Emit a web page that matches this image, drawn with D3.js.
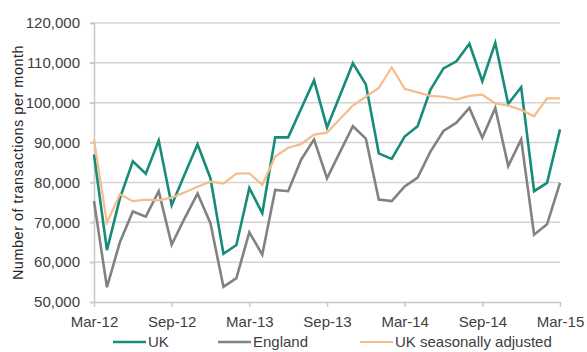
<!DOCTYPE html>
<html>
<head>
<meta charset="utf-8">
<script src="https://cdn.jsdelivr.net/npm/d3@7"></script>
<style>
  body { margin: 0; background: #fff; }
  svg { display: block; font-family: "Liberation Sans", Arial, sans-serif; }
</style>
</head>
<body>
<div id="chart-area"></div>
<script>
// monthly property transactions, Mar-12 .. Mar-15
var months = ["Mar-12","Apr-12","May-12","Jun-12","Jul-12","Aug-12","Sep-12","Oct-12","Nov-12","Dec-12",
    "Jan-13","Feb-13","Mar-13","Apr-13","May-13","Jun-13","Jul-13","Aug-13","Sep-13","Oct-13","Nov-13","Dec-13",
    "Jan-14","Feb-14","Mar-14","Apr-14","May-14","Jun-14","Jul-14","Aug-14","Sep-14","Oct-14","Nov-14","Dec-14",
    "Jan-15","Feb-15","Mar-15"];

var uk = [87000, 63000, 76000, 85300, 82200, 90500, 74300, 82000, 89600, 81000,
    62100, 64300, 78600, 72300, 91300, 91300, 98500, 105600, 93800, 101800, 109900, 104600,
    87300, 85900, 91500, 94100, 103300, 108600, 110400, 114800, 105400, 115000, 99700, 103900,
    77800, 79900, 93300];

var england = [75300, 53700, 65000, 72700, 71400, 77800, 64400, 71000, 77200, 69700,
    53800, 56000, 67500, 61900, 78100, 77800, 85700, 90800, 81000, 87600, 94100, 91000,
    75700, 75300, 79000, 81200, 87800, 92900, 95000, 98700, 91200, 98700, 84100, 90800,
    66900, 69500, 79900];

var ukSA = [90800, 69900, 77000, 75300, 75700, 75500, 76200, 77500, 78900, 80200,
    79700, 82200, 82300, 79400, 86500, 88700, 89600, 92000, 92500, 95900, 99300, 101500,
    103700, 108900, 103500, 102600, 101700, 101500, 100800, 101700, 102000, 99800, 99300, 98200,
    96600, 101100, 101100];

var yTicks = [50000, 60000, 70000, 80000, 90000, 100000, 110000, 120000];
var xTicks = [0, 6, 12, 18, 24, 30, 36];

var series = [
    {name: "UK", values: uk, color: "#168c79", width: 2.6},
    {name: "England", values: england, color: "#828282", width: 2.6},
    {name: "UK seasonally adjusted", values: ukSA, color: "#f6bd8c", width: 2.2}
];

var W = 587, H = 352;
var margin = {top: 23, left: 94, bottom: 50, right: 27};
var width = W - margin.left - margin.right,
    height = H - margin.top - margin.bottom;

var svg = d3.select("#chart-area")
    .append("svg")
        .attr("width", W)
        .attr("height", H);

var g = svg.append("g")
    .attr("transform", "translate(" + margin.left + "," + margin.top + ")");

// Scales
var x = d3.scaleLinear()
    .domain([0, months.length - 1])
    .range([0, width]);

var y = d3.scaleLinear()
    .domain([50000, 120000])
    .range([height, 0]);

// Gridlines
g.append("g")
    .selectAll("line")
    .data(yTicks.slice(1))
    .enter()
    .append("line")
        .attr("x1", -4)
        .attr("x2", width)
        .attr("y1", d => y(d))
        .attr("y2", d => y(d))
        .attr("stroke", "#d4d4d4")
        .attr("stroke-width", 1.5);

// Y axis
var yAxis = d3.axisLeft(y)
    .tickValues(yTicks)
    .tickSize(4)
    .tickPadding(10)
    .tickFormat(d3.format(","));
var gy = g.append("g").call(yAxis);
gy.select(".domain").attr("stroke", "#c8c8c8").attr("stroke-width", 1.5);
gy.selectAll(".tick line").attr("stroke", "#c8c8c8").attr("stroke-width", 1.5);
gy.selectAll("text")
    .attr("font-size", "15px")
    .attr("fill", "#404040");

// X axis
var xAxis = d3.axisBottom(x)
    .tickValues(xTicks)
    .tickSize(5)
    .tickSizeOuter(0)
    .tickPadding(9)
    .tickFormat(i => months[i]);
var gx = g.append("g")
    .attr("transform", "translate(0," + height + ")")
    .call(xAxis);
gx.select(".domain").attr("stroke", "#c8c8c8").attr("stroke-width", 1.5);
gx.selectAll(".tick line").attr("stroke", "#c8c8c8").attr("stroke-width", 1.5);
gx.selectAll("text")
    .attr("font-size", "15px")
    .attr("fill", "#404040");

// Axis label
g.append("text")
    .attr("transform", "rotate(-90)")
    .attr("x", -(height / 2))
    .attr("y", -71)
    .attr("text-anchor", "middle")
    .attr("font-size", "14.5px")
    .attr("letter-spacing", "0.5px")
    .attr("fill", "#262626")
    .text("Number of transactions per month");

// Lines
var line = d3.line()
    .x((d, i) => x(i))
    .y(d => y(d));

g.selectAll(".series")
    .data(series)
    .enter()
    .append("path")
        .attr("class", "series")
        .attr("d", d => line(d.values))
        .attr("fill", "none")
        .attr("stroke", d => d.color)
        .attr("stroke-width", d => d.width)
        .attr("stroke-linejoin", "miter");

// Legend
var legendX = [113, 218, 360];
var legend = svg.selectAll(".legend")
    .data(series)
    .enter()
    .append("g")
        .attr("class", "legend")
        .attr("transform", (d, i) => "translate(" + legendX[i] + ",342)");

legend.append("line")
    .attr("x1", 0)
    .attr("x2", 33)
    .attr("stroke", d => d.color)
    .attr("stroke-width", d => d.width);

legend.append("text")
    .attr("x", 35)
    .attr("y", 5)
    .attr("font-size", "15px")
    .attr("fill", "#404040")
    .text(d => d.name);
</script>
</body>
</html>
